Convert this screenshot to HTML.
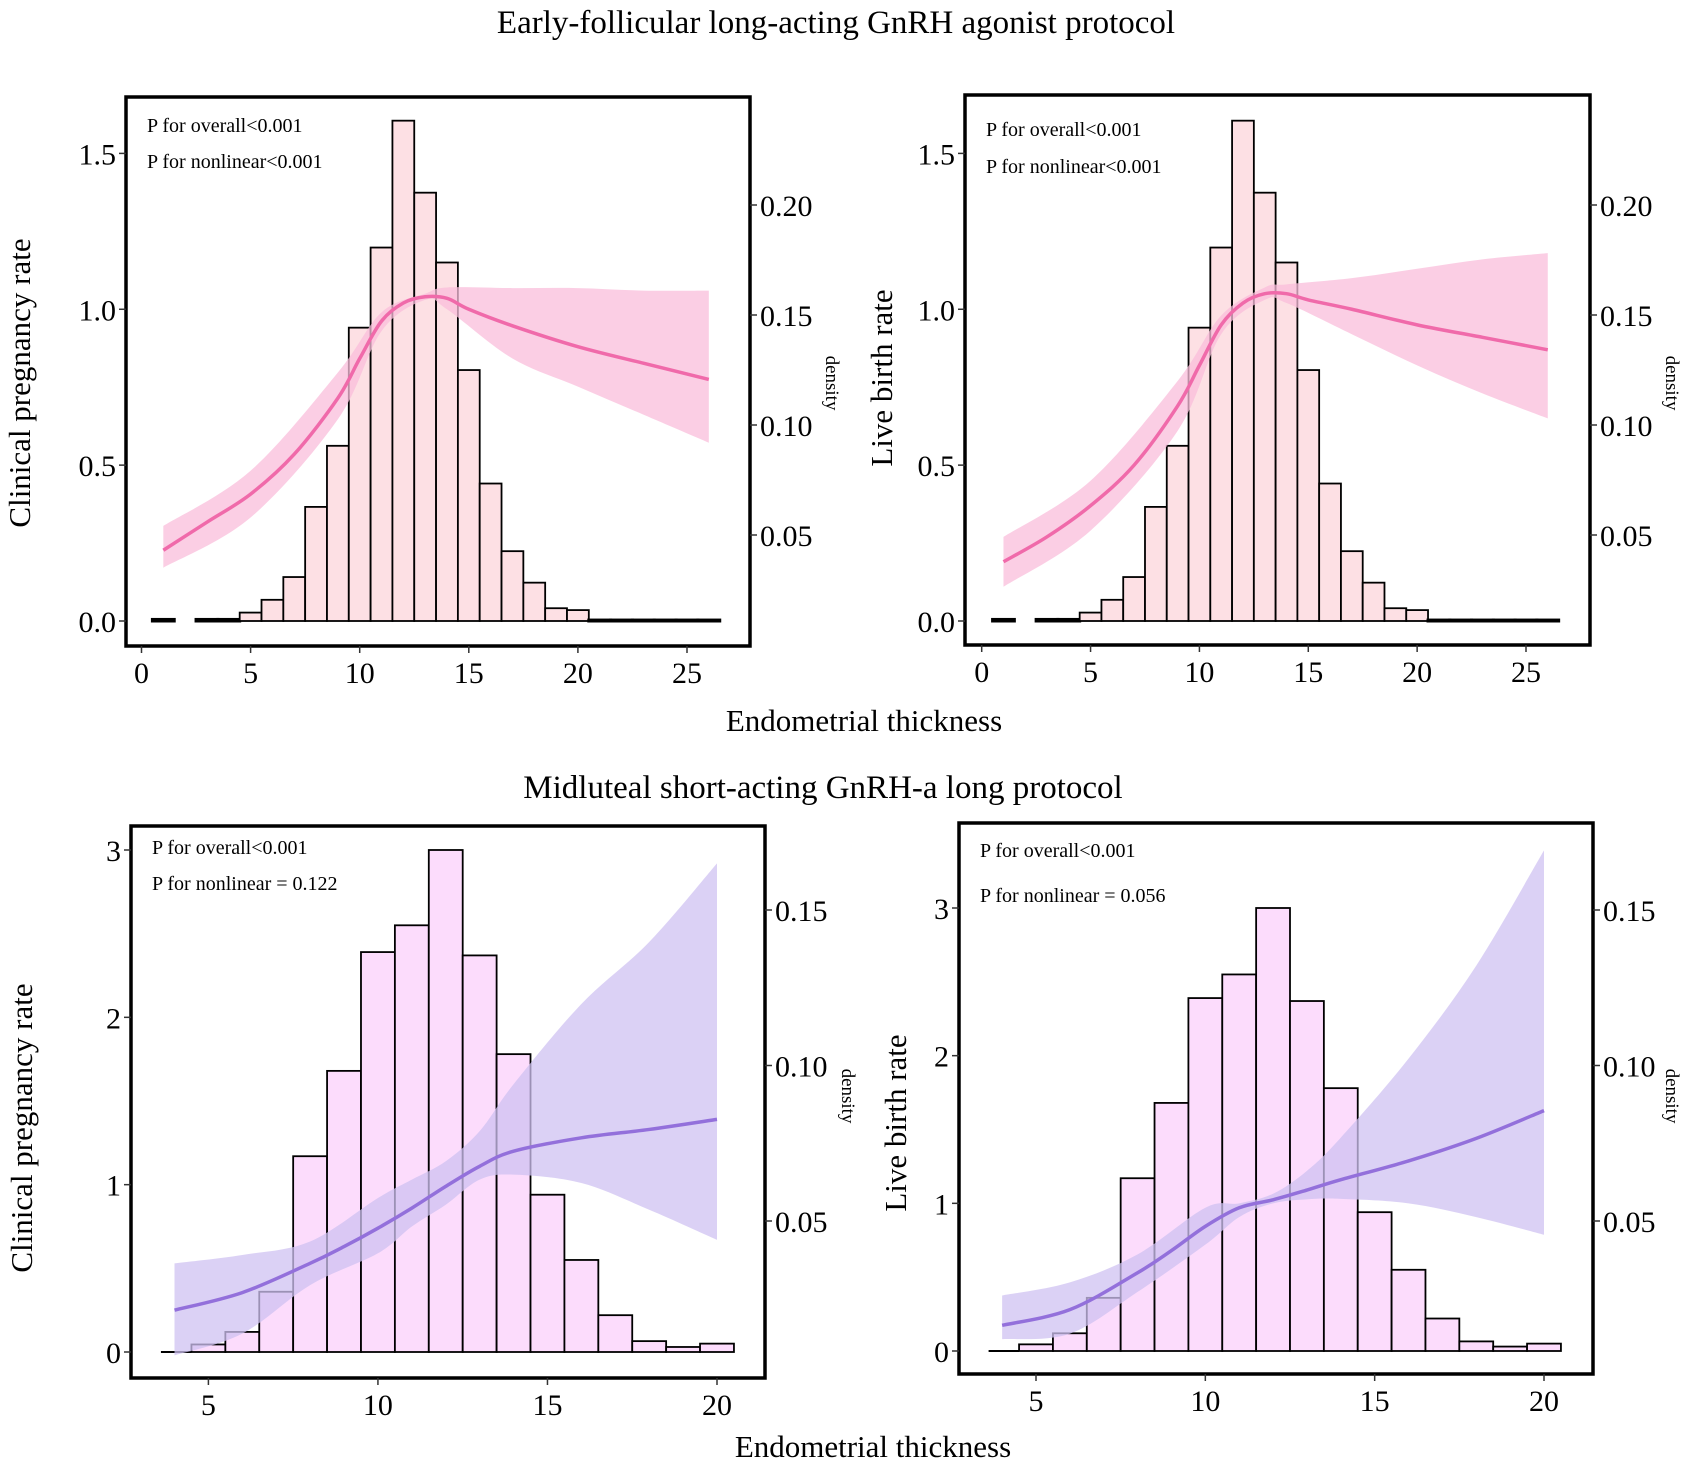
<!DOCTYPE html>
<html><head><meta charset="utf-8"><style>
body{margin:0;background:#fff;}
svg{display:block;font-family:"Liberation Serif",serif;}
</style></head><body>
<svg id="fig" width="1690" height="1461" viewBox="0 0 1690 1461">
<text x="836" y="33" font-size="33" text-anchor="middle">Early-follicular long-acting GnRH agonist protocol</text>
<text x="864" y="731" font-size="31" text-anchor="middle">Endometrial thickness</text>
<text x="823" y="798" font-size="33" text-anchor="middle">Midluteal short-acting GnRH-a long protocol</text>
<text x="873" y="1457" font-size="31" text-anchor="middle">Endometrial thickness</text>
</svg>
<script>
// ---- data ----
const topBins = [1,2,3,4,5,6,7,8,9,10,11,12,13,14,15,16,17,18,19,20,21,22,23,24,25,26];
const topBarVals = [0.005,0,0.005,0.005,0.027,0.068,0.141,0.366,0.562,0.941,1.198,1.605,1.374,1.150,0.805,0.441,0.224,0.123,0.041,0.035,0.003,0.003,0.003,0.003,0.003,0.003];
const cprTopX = [1,3,5,7,9,10,11,12,13,14,15,17,20,23,26];
const cprTopY = [0.227,0.317,0.407,0.535,0.715,0.842,0.962,1.02,1.04,1.035,1.0,0.947,0.88,0.827,0.775];
const cprTopCiX = [1,5,9,11,13,14,17,20,23,26];
const cprTopUpper = [0.305,0.482,0.797,0.99,1.05,1.07,1.068,1.068,1.06,1.06];
const cprTopLower = [0.171,0.332,0.647,0.93,1.03,1.0,0.842,0.752,0.662,0.572];
const lbrTopY = [0.19,0.27,0.37,0.50,0.69,0.82,0.95,1.02,1.05,1.05,1.03,1.0,0.95,0.91,0.87];
const lbrTopUpper = [0.27,0.45,0.77,0.98,1.07,1.08,1.1,1.13,1.16,1.18];
const lbrTopLower = [0.11,0.29,0.61,0.92,1.03,1.02,0.92,0.82,0.73,0.65];
const botBins = [5,6,7,8,9,10,11,12,13,14,15,16,17,18,19,20];
const botBarVals = [0.045,0.12,0.36,1.17,1.68,2.39,2.55,3.0,2.37,1.78,0.94,0.55,0.22,0.065,0.03,0.05];
const botCurveX = [4,6,8,9,10,11,12,13,14,16,18,20];
const cprBotY = [0.25,0.355,0.53,0.63,0.74,0.86,0.99,1.11,1.2,1.28,1.33,1.39];
const botCiX = [4,6,8,10,11,12,13,14,16,18,20];
const cprBotUpper = [0.53,0.58,0.66,0.92,1.03,1.14,1.32,1.6,2.08,2.45,2.92];
const cprBotLower = [-0.02,0.11,0.4,0.59,0.75,0.88,1.03,1.06,1.01,0.85,0.67];
const lbrBotY = [0.174,0.28,0.53,0.68,0.844,0.97,1.024,1.09,1.16,1.287,1.44,1.628];
const lbrBotUpper = [0.376,0.465,0.654,0.97,1.0,1.065,1.22,1.445,1.98,2.61,3.39];
const lbrBotLower = [0.08,0.117,0.40,0.72,0.907,1.0,1.027,1.03,1.0,0.907,0.787];
const topXTicks = [0,5,10,15,20,25];
const topYTicks = [0,0.5,1.0,1.5];
const topYTickLabels = ["0.0","0.5","1.0","1.5"];
const topDensTicks = ["0.05","0.10","0.15","0.20"];
const botXTicks = [5,10,15,20];
const botYTicks = [0,1,2,3];
const botDensTicks = ["0.05","0.10","0.15"];

const NS="http://www.w3.org/2000/svg";
const svg=document.getElementById('fig');
function mk(tag,attrs,parent){const e=document.createElementNS(NS,tag);for(const k in attrs)e.setAttribute(k,attrs[k]);(parent||svg).appendChild(e);return e;}
function smooth(pts){let d='M'+pts[0][0]+','+pts[0][1];for(let i=0;i<pts.length-1;i++){const p0=pts[i-1]||pts[i],p1=pts[i],p2=pts[i+1],p3=pts[i+2]||p2;const c1=[p1[0]+(p2[0]-p0[0])/6,p1[1]+(p2[1]-p0[1])/6],c2=[p2[0]-(p3[0]-p1[0])/6,p2[1]-(p3[1]-p1[1])/6];d+=` C${c1[0]},${c1[1]} ${c2[0]},${c2[1]} ${p2[0]},${p2[1]}`;}return d;}

function panel(cfg){
  const g=mk('g',{});
  
  
  const sx=v=>cfg.x0+(v-cfg.xa)*(cfg.x1-cfg.x0)/(cfg.xb-cfg.xa);
  const sy=v=>cfg.y0+(v-cfg.ya)*(cfg.y1-cfg.y0)/(cfg.yb-cfg.ya);
  cfg.bins.forEach((b,i)=>{
    const v=cfg.bars[i];const h=Math.max(sy(0)-sy(v),0);
    const r=mk('rect',{x:sx(b-0.5),y:sy(v),width:sx(b+0.5)-sx(b-0.5),height:h,fill:cfg.barFill,stroke:'#000','stroke-width':h<3?3:1.8},g);
    
    
  });
  if(cfg.baseFrom!==undefined){const l=mk('line',{x1:sx(cfg.baseFrom),x2:sx(cfg.bins[0]-0.5),y1:sy(0),y2:sy(0),stroke:'#000','stroke-width':2},g);
    }
  const up=cfg.ciX.map((x,i)=>[sx(x),sy(cfg.upper[i])]);
  const lo=cfg.ciX.map((x,i)=>[sx(x),sy(cfg.lower[i])]).reverse();
  let d=smooth(up);d+=' L'+lo[0][0]+','+lo[0][1]+smooth(lo).replace(/^M[^C]*/,' ')+' Z';
  const rb=mk('path',{d:d,fill:cfg.ribbon,opacity:0.75},g);
  
  
  const ln=mk('path',{d:smooth(cfg.cx.map((x,i)=>[sx(x),sy(cfg.cy[i])])),fill:'none',stroke:cfg.line,'stroke-width':3.5},g);
  
  
  const bx=mk('rect',{x:cfg.bx0,y:cfg.by0,width:cfg.bx1-cfg.bx0,height:cfg.by1-cfg.by0,fill:'none',stroke:'#000','stroke-width':3.5},g);
  
  
  cfg.xt.forEach(t=>{mk('line',{x1:sx(t),x2:sx(t),y1:cfg.by1,y2:cfg.by1+7,stroke:'#333','stroke-width':1.5},g);
    const tx=mk('text',{x:sx(t),y:cfg.by1+37,'font-size':30,'text-anchor':'middle'},g);tx.textContent=t;
    });
  cfg.yt.forEach((t,i)=>{mk('line',{x1:cfg.bx0-7,x2:cfg.bx0,y1:sy(t),y2:sy(t),stroke:'#333','stroke-width':1.5},g);
    const tx=mk('text',{x:cfg.bx0-10,y:sy(t)+11,'font-size':30,'text-anchor':'end'},g);tx.textContent=cfg.ytl[i];
    });
  cfg.dt.forEach((t,i)=>{const y=cfg.d0+i*cfg.dstep;mk('line',{x1:cfg.bx1,x2:cfg.bx1+7,y1:y,y2:y,stroke:'#333','stroke-width':1.5},g);
    const tx=mk('text',{x:cfg.bx1+10,y:y+11,'font-size':30},g);tx.textContent=t;
    });
  const yt=mk('text',{x:0,y:0,'font-size':31,'text-anchor':'middle',transform:`translate(${cfg.ytx},${cfg.yty}) rotate(-90)`},g);yt.textContent=cfg.ytitle;
  
  const dn=mk('text',{x:0,y:0,'font-size':19,'text-anchor':'middle',transform:`translate(${cfg.dx},${cfg.dy}) rotate(90)`},g);dn.textContent='density';
  
  cfg.ann.forEach((a,i)=>{const t=mk('text',{x:cfg.bx0+21,y:a[1],'font-size':20},g);t.textContent=a[0];
    });
}
panel({name:'panel-top-left',bx0:126,by0:97,bx1:750,by1:646,xa:0,xb:25,x0:141.5,x1:687,ya:0,yb:1.5,y0:621,y1:153.4,
 bins:topBins,bars:topBarVals,barFill:'#fde0e4',ribbon:'#f9bedb',line:'#f06aaa',
 ciX:cprTopCiX,upper:cprTopUpper,lower:cprTopLower,cx:cprTopX,cy:cprTopY,
 xt:topXTicks,yt:topYTicks,ytl:topYTickLabels,dt:topDensTicks,d0:535,dstep:-110,
 ytitle:'Clinical pregnancy rate',ytx:30,yty:383,dx:826,dy:383,
 ann:[['P for overall<0.001',132],['P for nonlinear<0.001',168]]});
panel({name:'panel-top-right',bx0:965,by0:95,bx1:1590,by1:645,xa:0,xb:25,x0:981.7,x1:1526,ya:0,yb:1.5,y0:621,y1:153.4,
 bins:topBins,bars:topBarVals,barFill:'#fde0e4',ribbon:'#f9bedb',line:'#f06aaa',
 ciX:cprTopCiX,upper:lbrTopUpper,lower:lbrTopLower,cx:cprTopX,cy:lbrTopY,
 xt:topXTicks,yt:topYTicks,ytl:topYTickLabels,dt:topDensTicks,d0:535,dstep:-110,
 ytitle:'Live birth rate',ytx:892,yty:378,dx:1666,dy:383,
 ann:[['P for overall<0.001',136],['P for nonlinear<0.001',173]]});
panel({name:'panel-bottom-left',bx0:131,by0:826,bx1:765,by1:1378,xa:5,xb:20,x0:208.4,x1:717,ya:0,yb:3,y0:1352,y1:850,
 bins:botBins,bars:botBarVals,barFill:'#fcdcfc',ribbon:'#cfc2f2',line:'#9370db',baseFrom:3.6,
 ciX:botCiX,upper:cprBotUpper,lower:cprBotLower,cx:botCurveX,cy:cprBotY,
 xt:botXTicks,yt:botYTicks,ytl:['0','1','2','3'],dt:botDensTicks,d0:1221,dstep:-155.5,
 ytitle:'Clinical pregnancy rate',ytx:32,yty:1128,dx:842,dy:1096,
 ann:[['P for overall<0.001',854],['P for nonlinear = 0.122',890]]});
panel({name:'panel-bottom-right',bx0:959,by0:823,bx1:1593,by1:1374,xa:5,xb:20,x0:1036,x1:1544,ya:0,yb:3,y0:1351,y1:908,
 bins:botBins,bars:botBarVals,barFill:'#fcdcfc',ribbon:'#cfc2f2',line:'#9370db',baseFrom:3.6,
 ciX:botCiX,upper:lbrBotUpper,lower:lbrBotLower,cx:botCurveX,cy:lbrBotY,
 xt:botXTicks,yt:botYTicks,ytl:['0','1','2','3'],dt:botDensTicks,d0:1221,dstep:-155.5,
 ytitle:'Live birth rate',ytx:906,yty:1123,dx:1666,dy:1096,
 ann:[['P for overall<0.001',857],['P for nonlinear = 0.056',902]]});
</script>
</body></html>
